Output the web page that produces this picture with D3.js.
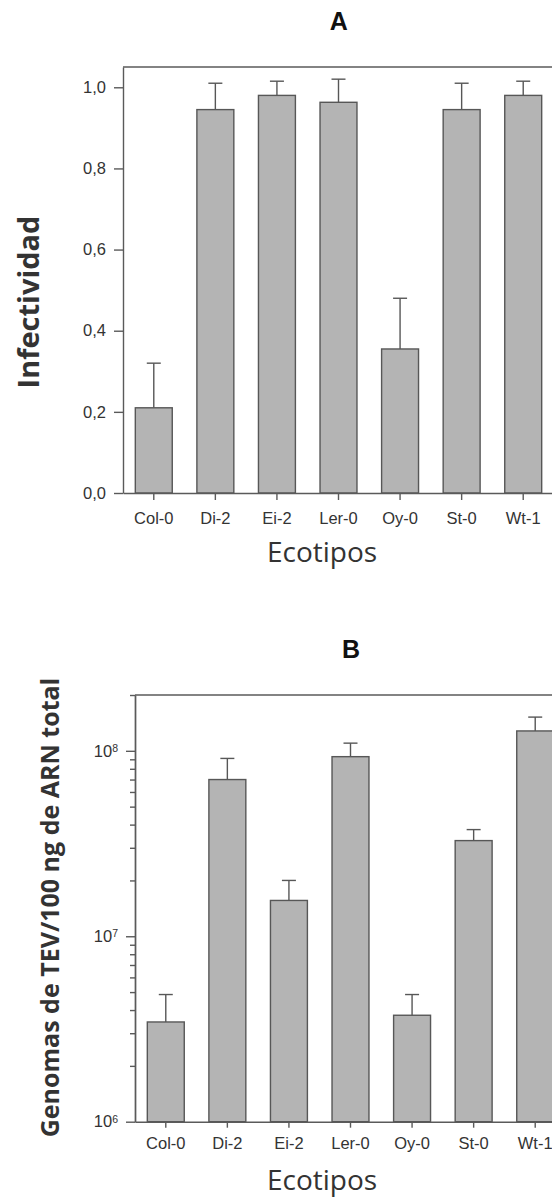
<!DOCTYPE html>
<html>
<head>
<meta charset="utf-8">
<script src="https://cdn.jsdelivr.net/npm/d3@7"></script>
<style>
  html, body { margin: 0; padding: 0; background: #fff; }
  svg { display: block; }
</style>
</head>
<body>
<svg id="chart" width="552" height="1198"></svg>
<script>
// Ecotypes on the x axis of both panels
const categories = ["Col-0", "Di-2", "Ei-2", "Ler-0", "Oy-0", "St-0", "Wt-1"];

// Panel A: infectivity (mean and upper error)
const infectividad = [0.21, 0.945, 0.98, 0.963, 0.355, 0.945, 0.98];
const infectividadErr = [0.11, 0.065, 0.035, 0.057, 0.125, 0.065, 0.035];
const infectividadTicks = [0, 0.2, 0.4, 0.6, 0.8, 1.0];

// Panel B: TEV genomes per 100 ng total RNA (mean and upper error)
const genomas = [3.45e6, 7.0e7, 1.56e7, 9.3e7, 3.75e6, 3.28e7, 1.28e8];
const genomasErr = [1.4e6, 2.1e7, 4.4e6, 1.7e7, 1.1e6, 4.8e6, 2.4e7];
const genomasMajorTicks = [1e6, 1e7, 1e8];

const svg = d3.select("#chart");
const AXIS = "#5a5a5a";
const TEXT = "#333";
const BAR_FILL = "#b4b4b4";
const BAR_STROKE = "#575757";

const commaFmt = d3.formatLocale({ decimal: ",", thousands: ".", grouping: [3], currency: ["", "€"] }).format(".1f");

function drawBars(g, x, y, values, errs, base) {
  const data = categories.map((c, i) => ({ c, v: values[i], e: errs[i] }));
  // upper error bars
  const eb = g.append("g").attr("stroke", BAR_STROKE).attr("stroke-width", 1.4).attr("fill", "none");
  data.forEach(d => {
    const cx = x(d.c) + x.bandwidth() / 2;
    eb.append("line").attr("x1", cx).attr("x2", cx).attr("y1", y(d.v)).attr("y2", y(d.v + d.e));
    eb.append("line").attr("x1", cx - 7).attr("x2", cx + 7).attr("y1", y(d.v + d.e)).attr("y2", y(d.v + d.e));
  });
  g.append("g").selectAll("rect").data(data).join("rect")
    .attr("x", d => x(d.c))
    .attr("width", x.bandwidth())
    .attr("y", d => y(d.v))
    .attr("height", d => y(base) - y(d.v))
    .attr("fill", BAR_FILL)
    .attr("stroke", BAR_STROKE)
    .attr("stroke-width", 1.4);
}

function styleAxis(g, fontSize) {
  g.select(".domain").attr("stroke", AXIS).attr("stroke-width", 1.4);
  g.selectAll(".tick line").attr("stroke", AXIS).attr("stroke-width", 1.4);
  g.selectAll(".tick text")
    .attr("fill", TEXT)
    .style("font-family", "'Liberation Sans', Arial, sans-serif")
    .style("font-size", fontSize + "px");
}

// ---------- Panel A ----------
{
  const left = 123, right = 554, top = 67, bottom = 493;
  const x = d3.scaleBand().domain(categories).range([left, right]).paddingInner(0.4).paddingOuter(0.2);
  const y = d3.scaleLinear().domain([0, 1.05]).range([bottom, top]);
  const g = svg.append("g");

  // frame top
  g.append("line").attr("x1", left).attr("x2", right).attr("y1", top).attr("y2", top)
    .attr("stroke", AXIS).attr("stroke-width", 1.4);

  drawBars(g, x, y, infectividad, infectividadErr, 0);

  const ya = g.append("g").attr("transform", `translate(${left},0)`)
    .call(d3.axisLeft(y).tickValues(infectividadTicks).tickFormat(commaFmt).tickSize(9).tickSizeOuter(0).tickPadding(8));
  styleAxis(ya, 16.5);

  const xa = g.append("g").attr("transform", `translate(0,${bottom})`)
    .call(d3.axisBottom(x).tickSize(7).tickSizeOuter(0).tickPadding(12));
  styleAxis(xa, 16.5);

  g.append("text").attr("x", 338.7).attr("y", 30).attr("text-anchor", "middle")
    .style("font-family", "'Liberation Sans', Arial, sans-serif").style("font-weight", "bold")
    .style("font-size", "25px").attr("fill", "#111").text("A");

  g.append("text").attr("transform", "translate(39,302) rotate(-90)").attr("text-anchor", "middle")
    .style("font-family", "'Open Sans', sans-serif").style("font-weight", "bold")
    .style("font-size", "29px").attr("fill", TEXT).text("Infectividad");

  g.append("text").attr("x", 322).attr("y", 562).attr("text-anchor", "middle")
    .style("font-family", "'Open Sans', sans-serif").style("font-size", "28px")
    .attr("fill", TEXT).text("Ecotipos");
}

// ---------- Panel B ----------
{
  const left = 135, right = 566, top = 695, bottom = 1121.7;
  const x = d3.scaleBand().domain(categories).range([left, right]).paddingInner(0.4).paddingOuter(0.2);
  const y = d3.scaleLog().domain([1e6, 2e8]).range([bottom, top]);
  const g = svg.append("g");

  g.append("line").attr("x1", left).attr("x2", right).attr("y1", top).attr("y2", top)
    .attr("stroke", AXIS).attr("stroke-width", 1.4);

  drawBars(g, x, y, genomas, genomasErr, 1e6);

  // minor ticks: 2..9 times each decade, up to the top of the domain
  const minorTicks = [];
  genomasMajorTicks.forEach(m => {
    for (let k = 2; k <= 9; k++) if (m * k <= 2e8) minorTicks.push(m * k);
  });
  const ym = g.append("g").attr("transform", `translate(${left},0)`)
    .call(d3.axisLeft(y).tickValues(minorTicks).tickFormat("").tickSize(5).tickSizeOuter(0));
  styleAxis(ym, 16.5);

  const ya = g.append("g").attr("transform", `translate(${left},0)`)
    .call(d3.axisLeft(y).tickValues(genomasMajorTicks).tickSize(9).tickSizeOuter(0).tickPadding(8));
  styleAxis(ya, 16.5);
  ya.selectAll(".tick text").each(function (d) {
    const t = d3.select(this);
    t.text(null);
    t.append("tspan").text("10");
    t.append("tspan").attr("dy", "-0.45em").style("font-size", "10.5px").text(Math.round(Math.log10(d)));
  });

  const xa = g.append("g").attr("transform", `translate(0,${bottom})`)
    .call(d3.axisBottom(x).tickSize(6).tickSizeOuter(0).tickPadding(10));
  styleAxis(xa, 16.5);

  g.append("text").attr("x", 351).attr("y", 658).attr("text-anchor", "middle")
    .style("font-family", "'Liberation Sans', Arial, sans-serif").style("font-weight", "bold")
    .style("font-size", "25px").attr("fill", "#111").text("B");

  g.append("text").attr("transform", "translate(59,907.5) rotate(-90)").attr("text-anchor", "middle")
    .style("font-family", "'Open Sans', sans-serif").style("font-weight", "bold")
    .style("font-size", "25px").attr("fill", TEXT).text("Genomas de TEV/100 ng de ARN total");

  g.append("text").attr("x", 322).attr("y", 1190).attr("text-anchor", "middle")
    .style("font-family", "'Open Sans', sans-serif").style("font-size", "28px")
    .attr("fill", TEXT).text("Ecotipos");
}
</script>
</body>
</html>
